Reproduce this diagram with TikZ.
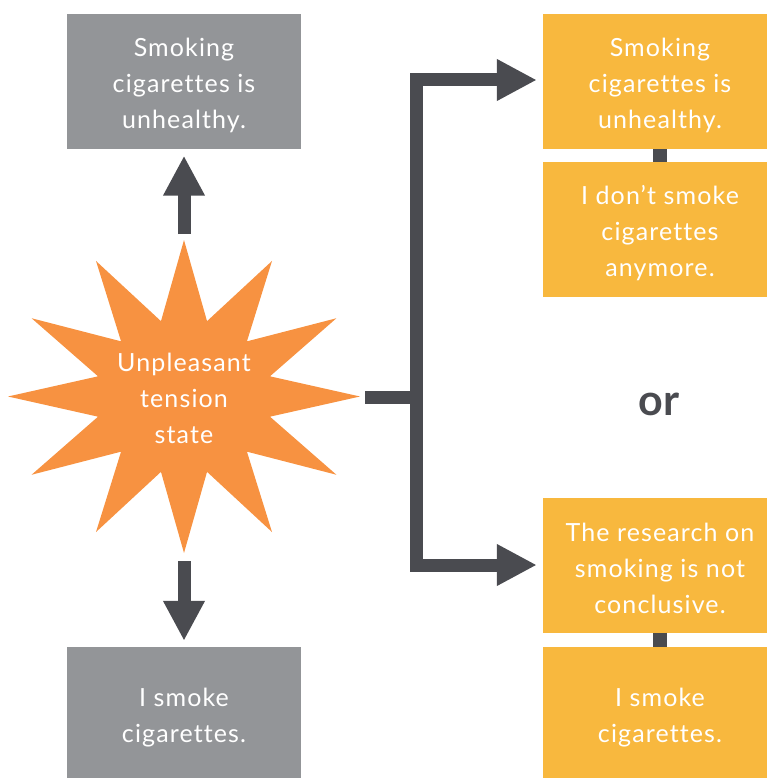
\documentclass[tikz,border=0pt]{standalone}
\usepackage{fontspec}
\setmainfont{Lato}[LetterSpace=4.5,Ligatures=NoCommon]
\newfontfamily\headfont{Lato}
\usetikzlibrary{arrows.meta,calc}
\definecolor{boxgray}{HTML}{939598}
\definecolor{boxorange}{HTML}{F8B83E}
\definecolor{starorange}{HTML}{F79241}
\definecolor{darkline}{HTML}{4A4B50}
\begin{document}
\begin{tikzpicture}[x=1pt,y=-1pt,
  cardtext/.style={align=center,text=white,inner sep=0pt,
    font=\fontsize{25}{36}\selectfont},
  card/.style={minimum width=234pt,minimum height=135pt,inner sep=0pt,
    label={[cardtext,yshift=-3.5pt]center:#1}},
  graycard/.style={card={#1},fill=boxgray},
  orangecard/.style={card={#1},fill=boxorange},
  bighead/.tip={Triangle[width=39pt,length=40pt]},
  bigarrow/.style={darkline,line width=13pt,-bighead},
  linkbar/.style={darkline,line width=14pt}]
\useasboundingbox (0,0) rectangle (767,778);

% statement cards
\node[graycard={Smoking\\cigarettes is\\unhealthy.}] (gtop) at (184,81.5) {};
\node[graycard={I smoke\\cigarettes.}] (gbot) at (184,714.5) {};
\node[orangecard={Smoking\\cigarettes is\\unhealthy.}] (o1) at (660,81.5) {};
\node[orangecard={I don’t smoke\\cigarettes\\anymore.}] (o2) at (660,229.5) {};
\node[orangecard={The research on\\smoking is not\\conclusive.}] (o3) at (660,565) {};
\node[orangecard={I smoke\\cigarettes.}] (o4) at (660,714.5) {};

% twelve-pointed burst
\fill[starorange] (184+176,396.5)
  \foreach \i [evaluate=\i as \rx using {isodd(\i)?89:176},
               evaluate=\i as \ry using {isodd(\i)?78:156.5}] in {1,...,23}
  { -- ({184+\rx*cos(15*\i)},{396.5+\ry*sin(15*\i)}) } -- cycle;
\coordinate (startop) at (184,240);
\coordinate (starbot) at (184,553);
\coordinate (starright) at (360,397.5);
\node[cardtext] (tension) at (184,398) {Unpleasant\\tension\\state};

% arrows
\draw[bigarrow] ($(startop)+(0,-6)$) -- ($(gtop.south)+(0,6.5)$);
\draw[bigarrow] ($(starbot)+(0,8)$) -- ($(gbot.north)+(0,-6)$);
\coordinate (fork) at (416.5,397.5);
\draw[darkline,line width=13pt] ($(starright)+(5,0)$) -- (fork);
\draw[darkline,line width=13pt,bighead-bighead]
  ($(o1.west)+(-6,-1.5)$) -| (fork) |- ($(o3.west)+(-6,0)$);

% links between stacked cards
\draw[linkbar] (o1.south) -- (o2.north);
\draw[linkbar] (o3.south) -- (o4.north);

\node[anchor=base,text=darkline,font=\headfont\fontsize{43}{43}\selectfont\bfseries]
  (or) at (659,415) {or};
\end{tikzpicture}
\end{document}
